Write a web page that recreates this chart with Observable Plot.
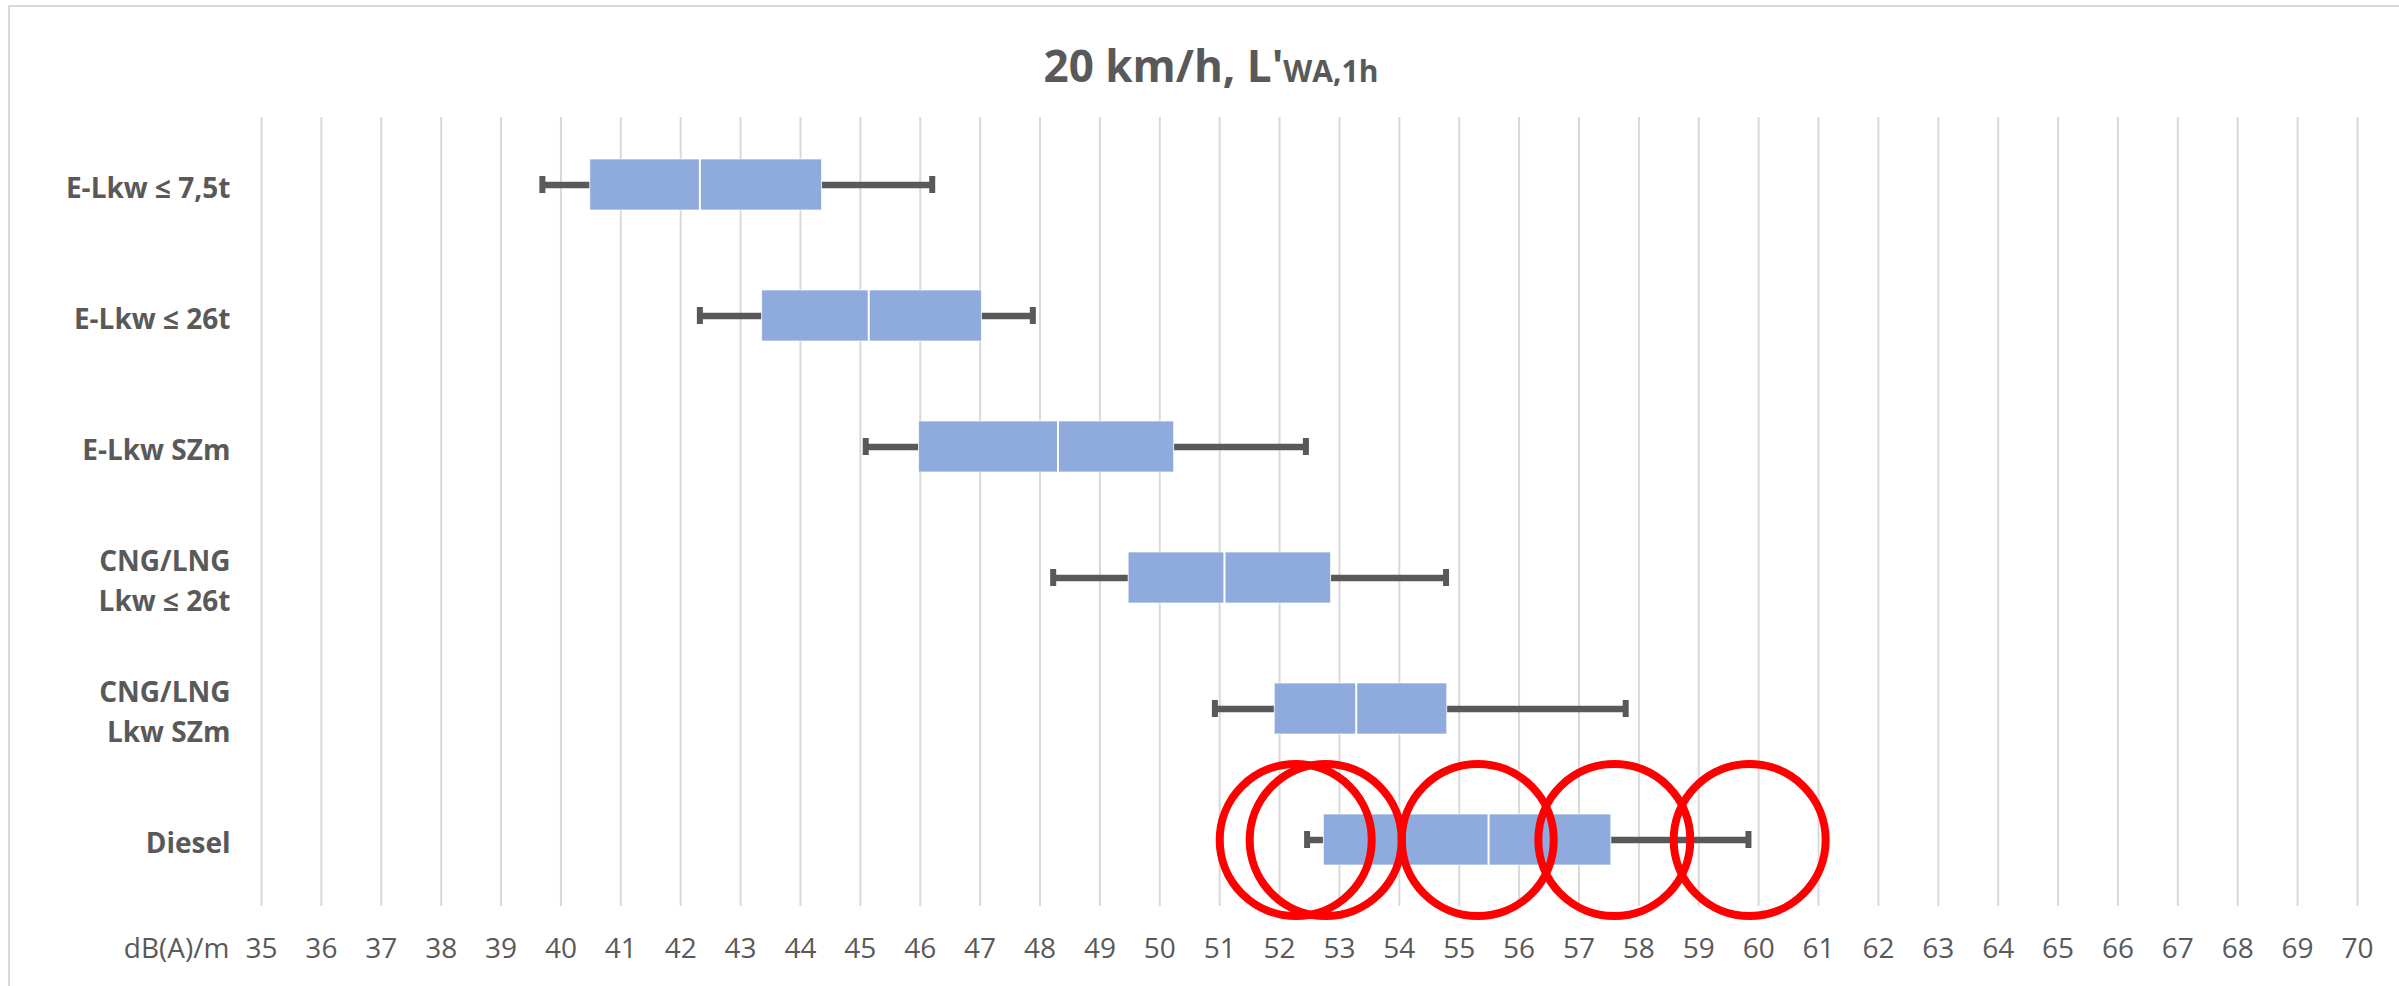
<!DOCTYPE html>
<html>
<head>
<meta charset="utf-8">
<script src="https://cdn.jsdelivr.net/npm/d3@7"></script>
<script src="https://cdn.jsdelivr.net/npm/@observablehq/plot@0.6"></script>
<style>
html, body { margin: 0; padding: 0; background: #ffffff; overflow: hidden; }
#wrap { position: relative; width: 2399px; height: 986px; font-family: "Open Sans", sans-serif; }
#wrap svg { display: block; }
#frame { position: absolute; left: 8px; top: 5px; width: 2420px; height: 1000px; border-left: 2px solid #d9d9d9; border-top: 2px solid #d9d9d9; pointer-events: none; }
#title { position: absolute; left: 1211px; top: 43px; transform: translateX(-50%); white-space: nowrap; font-size: 44px; line-height: 44px; font-weight: 700; color: #595959; }
#title span { font-size: 30px; }
</style>
</head>
<body>
<div id="wrap"><div id="frame"></div><div id="title">20 km/h, L'<span>WA,1h</span></div></div>
<script>
// ---- data ----
const categories = ["E-Lkw ≤ 7,5t", "E-Lkw ≤ 26t", "E-Lkw SZm", "CNG/LNG\nLkw ≤ 26t", "CNG/LNG\nLkw SZm", "Diesel"];
const minVals    = [39.69, 42.32, 45.09, 48.22, 50.92, 52.46];
const q1Vals     = [40.49, 43.36, 45.98, 49.48, 51.92, 52.74];
const medianVals = [42.32, 45.14, 48.30, 51.08, 53.28, 55.49];
const q3Vals     = [44.36, 47.03, 50.24, 52.86, 54.80, 57.54];
const maxVals    = [46.20, 47.88, 52.44, 54.78, 57.78, 59.83];
const xTicks = [35,36,37,38,39,40,41,42,43,44,45,46,47,48,49,50,51,52,53,54,55,56,57,58,59,60,61,62,63,64,65,66,67,68,69,70];
const unitLabel = "dB(A)/m";
const circleRow = "Diesel";
const circleVals = [52.27, 52.77, 55.31, 57.59, 59.85];

const rows = categories.map((c, i) => ({
  category: c, min: minVals[i], q1: q1Vals[i], median: medianVals[i], q3: q3Vals[i], max: maxVals[i]
}));
const circles = circleVals.map(v => ({value: v, category: circleRow}));

const gray = "#595959";
const chart = Plot.plot({
  width: 2399,
  height: 986,
  marginLeft: 261,
  marginRight: 42,
  marginTop: 117,
  marginBottom: 80,
  style: {fontFamily: "'Open Sans', sans-serif", background: "transparent"},
  x: {domain: [35, 70]},
  y: {domain: categories, padding: 0},
  marks: [
    Plot.gridX(xTicks, {stroke: "#d9d9d9", strokeOpacity: 1, strokeWidth: 2}),
    Plot.ruleY(rows, {y: "category", x1: "min", x2: "q1", stroke: gray, strokeWidth: 6.5}),
    Plot.ruleY(rows, {y: "category", x1: "q3", x2: "max", stroke: gray, strokeWidth: 6.5}),
    Plot.barX(rows, {y: "category", x1: "q1", x2: "q3", fill: "#8faadc", stroke: "#ffffff", strokeWidth: 1, strokeOpacity: 0.7, insetTop: 40, insetBottom: 40}),
    Plot.tickX(rows, {y: "category", x: "median", stroke: "#ffffff", strokeWidth: 2, insetTop: 40, insetBottom: 40}),
    Plot.tickX(rows, {y: "category", x: "min", stroke: gray, strokeWidth: 6, insetTop: 57, insetBottom: 57}),
    Plot.tickX(rows, {y: "category", x: "max", stroke: gray, strokeWidth: 6, insetTop: 57, insetBottom: 57}),
    Plot.dot(circles, {x: "value", y: "category", r: 76, stroke: "#ff0000", strokeWidth: 8, fill: "none"}),
    Plot.axisX(xTicks, {tickSize: 0, tickPadding: 32, fontSize: 28, color: gray, label: null, tickFormat: d => String(d)}),
    Plot.axisY({tickSize: 0, tickPadding: 31, fontSize: 28, fontWeight: "bold", color: gray, label: null, lineHeight: 1.43}),
    Plot.text([unitLabel], {frameAnchor: "bottom-left", dx: -32, dy: 32, textAnchor: "end", lineAnchor: "top", fontSize: 28, fill: gray})
  ]
});
document.getElementById("wrap").prepend(chart);
</script>
</body>
</html>
